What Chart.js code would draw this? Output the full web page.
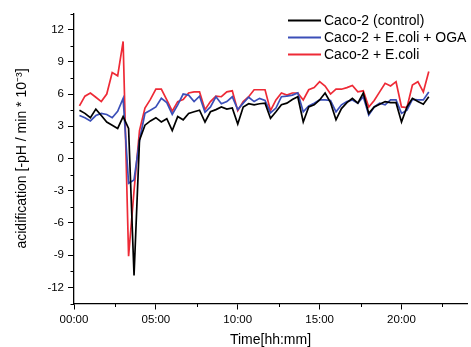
<!DOCTYPE html>
<html>
<head>
<meta charset="utf-8">
<script src="https://cdn.jsdelivr.net/npm/chart.js@4/dist/chart.umd.min.js"></script>
<style>
  html, body { margin: 0; padding: 0; background: #ffffff; }
  #wrap { width: 471px; height: 347px; }
</style>
</head>
<body>
<div id="wrap"><canvas id="c" width="471" height="347"></canvas></div>
<script>
// ---- data (time in minutes since start) ----
const timeMinutes = [20,40,60,80,100,120,140,160,180,200,220,240,260,280,300,320,340,360,380,400,
  420,440,460,480,500,520,540,560,580,600,620,640,660,680,700,720,740,760,780,800,
  820,840,860,880,900,920,940,960,980,1000,1020,1040,1060,1080,1100,1120,1140,1160,1180,1200,
  1220,1240,1260,1280,1300];

const seriesNames = ["Caco-2 (control)", "Caco-2 + E.coli + OGA", "Caco-2 + E.coli"];

const controlValues = [4.5,4.2,3.8,4.6,4.0,3.4,3.1,2.8,3.9,2.8,-10.9,1.7,3.1,3.5,3.8,3.4,3.7,2.6,3.9,3.6,
  4.2,4.35,4.5,3.4,4.35,4.55,4.8,4.6,4.7,3.2,4.8,5.1,5.0,5.1,5.15,3.75,4.35,5.0,5.15,5.5,
  5.75,3.4,4.8,5.0,5.45,6.1,5.2,3.6,4.65,5.2,5.6,5.15,6.1,4.2,4.8,5.05,5.3,5.2,5.2,3.4,
  4.8,5.6,5.3,5.05,5.75];

const ogaValues = [4.0,3.8,3.5,4.0,4.2,4.1,3.8,4.4,5.6,-2.3,-2.0,1.7,4.2,4.5,4.8,5.6,5.2,4.1,5.0,6.0,
  5.9,5.3,5.8,4.3,4.8,5.75,5.1,5.3,5.75,4.55,5.15,5.7,5.3,5.6,5.4,4.25,4.7,5.75,5.8,5.9,
  6.1,4.35,4.9,5.15,5.45,5.45,5.4,4.35,5.0,5.3,5.45,5.15,5.75,4.05,4.8,5.15,5.0,5.45,5.45,4.2,
  4.5,5.5,5.45,5.45,6.2];

const ecoliValues = [4.9,5.8,6.1,5.7,5.3,6.0,8.0,7.7,10.9,-9.1,-3.0,2.6,4.7,5.5,6.45,6.45,5.45,4.4,5.3,5.5,
  6.1,6.2,6.2,4.55,5.3,5.8,5.75,6.2,6.3,4.45,5.3,5.75,6.4,6.4,6.4,4.45,5.45,6.1,5.9,6.1,
  6.1,5.45,6.4,6.6,7.15,6.75,6.0,6.45,6.45,6.6,6.8,6.2,6.3,4.8,5.4,6.2,7.0,6.75,7.15,4.8,
  4.75,6.85,7.15,6.2,8.1];

const seriesColors = ["#000000", "#3b4fb8", "#ee2a36"];

// ---- ticks ----
const xTickValues = [0, 300, 600, 900, 1200];
const xTickLabels = ["00:00", "05:00", "10:00", "15:00", "20:00"];
const xMinorValues = [150, 450, 750, 1050, 1350];
const yTickValues = [-12, -9, -6, -3, 0, 3, 6, 9, 12];
const yTickLabels = ["-12", "-9", "-6", "-3", "0", "3", "6", "9", "12"];
const yMinorValues = [-13.5, -10.5, -7.5, -4.5, -1.5, 1.5, 4.5, 7.5, 10.5, 13.5];

const FONT = "'Liberation Sans', Arial, sans-serif";

function toPoints(vals) {
  return vals.map((v, i) => ({ x: timeMinutes[i], y: v }));
}

const allSeries = [controlValues, ogaValues, ecoliValues];
const datasets = allSeries.map((vals, i) => ({
  label: seriesNames[i],
  data: toPoints(vals),
  borderColor: seriesColors[i],
  backgroundColor: seriesColors[i],
  borderWidth: 1.7,
  pointRadius: 0,
  tension: 0,
  fill: false
}));

const minorTicksPlugin = {
  id: 'minorTicks',
  afterDraw(chart) {
    const ctx = chart.ctx;
    const xs = chart.scales.x, ys = chart.scales.y;
    const a = chart.chartArea;
    ctx.save();
    ctx.strokeStyle = '#000';
    ctx.lineWidth = 1;
    xMinorValues.forEach(v => {
      const px = Math.round(xs.getPixelForValue(v)) + 0.5;
      ctx.beginPath(); ctx.moveTo(px, a.bottom); ctx.lineTo(px, a.bottom + 3.5); ctx.stroke();
    });
    yMinorValues.forEach(v => {
      const py = Math.round(ys.getPixelForValue(v)) + 0.5;
      ctx.beginPath(); ctx.moveTo(a.left - 3.5, py); ctx.lineTo(a.left, py); ctx.stroke();
    });
    ctx.restore();
  }
};

const legendPlugin = {
  id: 'insideLegend',
  afterDraw(chart) {
    const ctx = chart.ctx;
    ctx.save();
    ctx.font = "14px " + FONT;
    ctx.textBaseline = 'middle';
    ctx.textAlign = 'left';
    chart.data.datasets.forEach((ds, i) => {
      const y = 20.5 + i * 17;
      ctx.strokeStyle = ds.borderColor;
      ctx.lineWidth = 2;
      ctx.beginPath(); ctx.moveTo(288, y); ctx.lineTo(321, y); ctx.stroke();
      ctx.fillStyle = '#000';
      ctx.fillText(ds.label, 324, y + 0.5);
    });
    ctx.restore();
  }
};

new Chart(document.getElementById('c'), {
  type: 'line',
  data: { datasets },
  options: {
    responsive: false,
    animation: false,
    layout: { padding: { left: 0, top: 13.5, right: 4, bottom: 0 } },
    plugins: { legend: { display: false }, tooltip: { enabled: false } },
    scales: {
      x: {
        type: 'linear',
        min: 0, max: 1440,
        afterFit(s) { s.height = 43.5; },
        afterBuildTicks(s) { s.ticks = xTickValues.map(v => ({ value: v })); },
        ticks: {
          color: '#000',
          padding: 3,
          maxRotation: 0,
          autoSkip: false,
          font: { family: FONT, size: 11.5 },
          callback: (v) => { const i = xTickValues.indexOf(v); return i >= 0 ? xTickLabels[i] : ''; }
        },
        grid: { display: true, drawOnChartArea: false, drawTicks: true, tickLength: 6, color: '#000', lineWidth: 1 },
        border: { display: true, color: '#000', width: 1.3 },
        title: { display: true, text: 'Time[hh:mm]', color: '#000', font: { family: FONT, size: 14, lineHeight: 1 }, padding: { top: 0, bottom: 0 } }
      },
      y: {
        type: 'linear',
        min: -13.5, max: 13.5,
        afterFit(s) { s.width = 74; },
        afterBuildTicks(s) { s.ticks = yTickValues.map(v => ({ value: v })); },
        ticks: {
          color: '#000',
          padding: 4,
          autoSkip: false,
          font: { family: FONT, size: 11.5 },
          callback: (v) => { const i = yTickValues.indexOf(v); return i >= 0 ? yTickLabels[i] : ''; }
        },
        grid: { display: true, drawOnChartArea: false, drawTicks: true, tickLength: 6, color: '#000', lineWidth: 1 },
        border: { display: true, color: '#000', width: 1.3 },
        title: { display: true, text: 'acidification [-pH / min * 10\u207B\u00B3]', color: '#000', font: { family: FONT, size: 14, lineHeight: 1 }, padding: { top: 15, bottom: 0 } }
      }
    }
  },
  plugins: [minorTicksPlugin, legendPlugin]
});
</script>
</body>
</html>
